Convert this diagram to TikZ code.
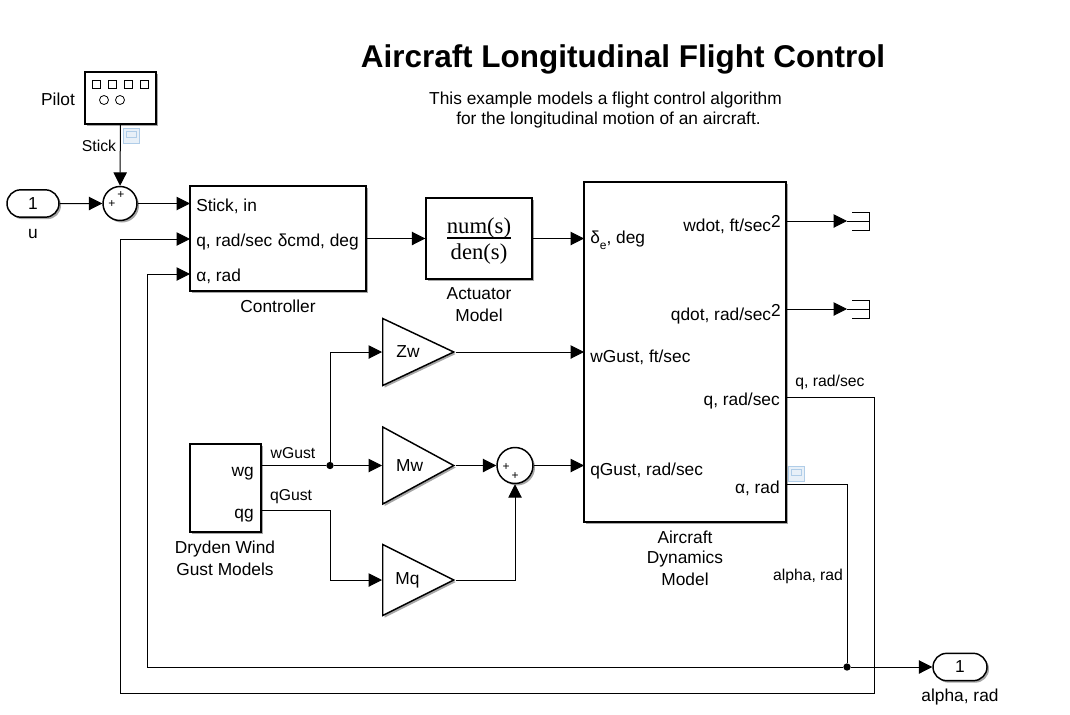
\documentclass[tikz,border=0pt]{standalone}
\usepackage{fontspec}
\setmainfont{Liberation Sans}
\newfontfamily\tffont{Liberation Serif}
\usetikzlibrary{arrows.meta,shapes.geometric,shapes.misc,shadows}

\definecolor{logedge}{RGB}{176,205,232}
\definecolor{logfill}{RGB}{232,240,248}

\newcommand{\squared}{\raisebox{3pt}{\fontsize{13}{13}\selectfont 2}}
\newcommand{\subE}{\raisebox{-5pt}{\fontsize{9}{9}\selectfont e}}

\tikzset{
  >={Triangle[length=10pt,width=10pt]},
  sig/.style={->,line width=0.75pt},
  wire/.style={line width=0.75pt},
  thinline/.style={line width=0.6pt},
  blockbox/.style={draw,fill=white,line width=1.1pt,inner sep=0pt,
    drop shadow={shadow xshift=1.5pt,shadow yshift=-1.5pt,fill=black,opacity=0.35}},
  sumnode/.style={blockbox,circle},
  portnode/.style={blockbox,rounded rectangle,minimum width=39pt,minimum height=20.5pt,
    font=\fontsize{13}{15}\selectfont},
  gainnode/.style={blockbox,isosceles triangle,isosceles triangle stretches,shape border rotate=0,
    anchor=lower side,inner xsep=6pt,inner ysep=0pt,font=\fontsize{13}{15}\selectfont},
  txt/.style={inner sep=0pt,font=\fontsize{13}{15}\selectfont},
  small/.style={inner sep=0pt,font=\fontsize{11.8}{13}\selectfont},
  tftext/.style={inner sep=0pt,anchor=base,font=\fontsize{17}{20}\tffont},
  plus/.style={inner sep=0pt,font=\fontsize{9}{9}\selectfont},
  dot/.style={circle,fill=black,inner sep=0pt,minimum size=5.5pt},
  logicon/.style={draw=logedge,fill=logfill,line width=0.6pt},
}

\begin{document}
\begin{tikzpicture}[x=0.75pt,y=-0.75pt]
  \useasboundingbox (0,0) rectangle (1070,714);

  % title
  \node[inner sep=0pt,font=\fontsize{23.6}{26}\bfseries\selectfont] (title) at (623,59.5) {Aircraft Longitudinal Flight Control};
  \node[txt] (note1) at (605.5,100) {This example models a flight control algorithm};
  \node[txt] (note2) at (608.5,120) {for the longitudinal motion of an aircraft.};

  % blocks
  \node[blockbox,minimum width=53.25pt,minimum height=39pt] (pilot) at (120.5,98) {};
  \node[portnode] (u) at (33,203.5) {1};
  \node[sumnode,minimum size=25.5pt] (sum1) at (120,203.5) {};
  \node[blockbox,minimum width=132pt,minimum height=78.75pt] (ctrl) at (278,238.5) {};
  \node[blockbox,minimum width=79.5pt,minimum height=60.75pt] (act) at (479,238.5) {};
  \node[blockbox,minimum width=151.5pt,minimum height=255pt] (plant) at (685,352) {};
  \node[blockbox,minimum width=53.25pt,minimum height=66pt] (gust) at (225.5,488) {};
  \node[gainnode,minimum height=53.25pt,minimum width=50.25pt] (zw) at (382,352) {Zw};
  \node[gainnode,minimum height=53.25pt,minimum width=57.75pt] (mw) at (382,465.5) {Mw};
  \node[gainnode,minimum height=53.25pt,minimum width=53.25pt] (mq) at (382,580) {Mq};
  \node[sumnode,minimum size=27pt] (sum2) at (515,465.5) {};
  \node[portnode,minimum width=40.5pt] (alpha) at (960,667) {1};

  % transfer function
  \node[tftext] (tfnum) at (479,233) {num(s)};
  \node[tftext] (tfden) at (479,259) {den(s)};
  \draw[line width=0.9pt] (447,238) -- (511,238);

  % pilot face
  \draw[thinline] (92,80) rectangle (100,88);
  \draw[thinline] (108,80) rectangle (116,88);
  \draw[thinline] (124,80) rectangle (132,88);
  \draw[thinline] (140,80) rectangle (148,88);
  \draw[thinline] (104,100) circle (4.5);
  \draw[thinline] (120,100) circle (4.5);

  % log icons
  \draw[logicon] (123,128) rectangle (139,143);
  \draw[logicon] (126,131) rectangle (136,137);
  \draw[logicon] (788,466) rectangle (804,481);
  \draw[logicon] (791,469) rectangle (801,475);

  % plus signs
  \node[plus] (s1a) at (121,195) {+};
  \node[plus] (s1b) at (112,204) {+};
  \node[plus] (s2a) at (506,467) {+};
  \node[plus] (s2b) at (515,476) {+};

  % port points
  \coordinate (cStick) at (190,203.5);
  \coordinate (cQ) at (190,239);
  \coordinate (cAlpha) at (190,274);
  \coordinate (cOut) at (366,238.5);
  \coordinate (pDelta) at (584,238.5);
  \coordinate (pW) at (584,352);
  \coordinate (pQ) at (584,465.5);
  \coordinate (pWdot) at (786,221);
  \coordinate (pQdot) at (786,309);
  \coordinate (pOutQ) at (786,397);
  \coordinate (pOutA) at (786,484);
  \coordinate (gW) at (261,465.5);
  \coordinate (gQ) at (261,510);
  \coordinate (term1) at (847,221);
  \coordinate (term2) at (847,309);
  \node[dot] (j1) at (330,465.5) {};
  \node[dot] (j2) at (847,667) {};

  % signals
  \draw[sig] (pilot) -- (sum1);
  \draw[sig] (u) -- (sum1);
  \draw[sig] (sum1) -- (cStick);
  \draw[sig] (cOut) -- (act);
  \draw[sig] (act) -- (pDelta);
  \draw[sig] (zw.apex) -- (pW);
  \draw[wire] (gW) -- (j1);
  \draw[sig] (j1) -- (mw.lower side);
  \draw[sig] (j1) |- (zw.lower side);
  \draw[sig] (gQ) -| (330,580) -- (mq.lower side);
  \draw[sig] (mw.apex) -- (sum2);
  \draw[sig] (mq.apex) -| (sum2);
  \draw[sig] (sum2) -- (pQ);
  \draw[sig] (pWdot) -- (term1);
  \draw[sig] (pQdot) -- (term2);
  \draw[wire] (term1) -- ++(22,0) ++(-17,-9) -- ++(17,0) -- ++(0,18) -- ++(-17,0);
  \draw[wire] (term2) -- ++(22,0) ++(-17,-9) -- ++(17,0) -- ++(0,18) -- ++(-17,0);
  \draw[wire] (pOutA) -| (j2);
  \draw[sig] (j2) -- (alpha);
  \draw[sig] (j2) -- (147,667) |- (cAlpha);
  \draw[sig] (pOutQ) -| (874,693) -| (120,239) -- (cQ);

  % texts
  \node[txt] (pilotlbl) at (58,99) {Pilot};
  \node[small] (sticklbl) at (99,146) {Stick};
  \node[txt] (ulbl) at (33,234) {u};
  \node[txt,anchor=mid west] (t1) at (196,207.5) {Stick, in};
  \node[txt,anchor=mid west] (t2) at (196,242.5) {q, rad/sec};
  \node[txt,anchor=mid west] (t3) at (196,278) {α, rad};
  \node[txt,anchor=mid east] (t4) at (359,242.5) {δcmd, deg};
  \node[txt] (ctrllbl) at (278,306) {Controller};
  \node[txt] (act1) at (479,294) {Actuator};
  \node[txt] (act2) at (479,315) {Model};
  \node[txt,anchor=base west] (p1) at (590,243) {δ\subE, deg};
  \node[txt,anchor=mid west] (p2) at (590,358.5) {wGust, ft/sec};
  \node[txt,anchor=mid west] (p3) at (590,472) {qGust, rad/sec};
  \node[txt,anchor=base east] (p4) at (781,231.5) {wdot, ft/sec\squared};
  \node[txt,anchor=base east] (p5) at (781,320) {qdot, rad/sec\squared};
  \node[txt,anchor=mid east] (p6) at (780,402) {q, rad/sec};
  \node[txt,anchor=mid east] (p7) at (780,490) {α, rad};
  \node[txt] (pl1) at (685,537) {Aircraft};
  \node[txt] (pl2) at (685,559.5) {Dynamics};
  \node[txt] (pl3) at (685,579) {Model};
  \node[txt,anchor=mid east] (g1) at (254,473) {wg};
  \node[txt,anchor=mid east] (g2) at (254,515) {qg};
  \node[txt] (gl1) at (225,549.5) {Dryden Wind};
  \node[txt] (gl2) at (225,569) {Gust Models};
  \node[small] (wlbl) at (293,453) {wGust};
  \node[small] (qlbl) at (291,497) {qGust};
  \node[small] (qout) at (830,382) {q, rad/sec};
  \node[small] (aout) at (808,576) {alpha, rad};
  \node[txt] (alphalbl) at (960,697) {alpha, rad};
\end{tikzpicture}
\end{document}
